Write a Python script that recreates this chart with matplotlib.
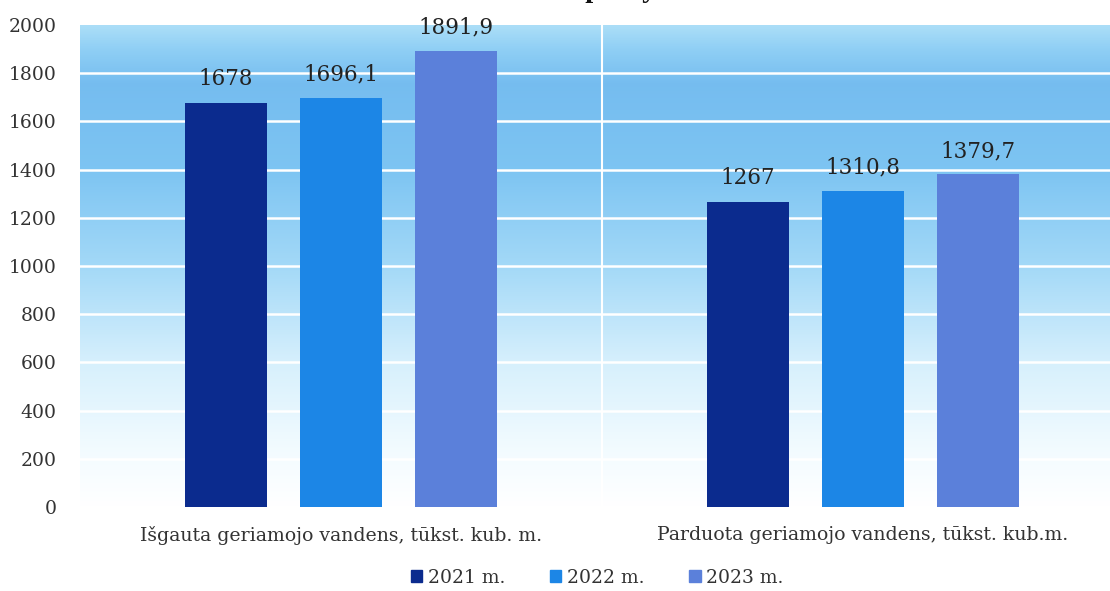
import numpy as np
import matplotlib.pyplot as plt
from matplotlib.colors import LinearSegmentedColormap
from matplotlib.patches import Patch

plt.rcParams['font.family'] = ['DejaVu Serif']

# data
categories = ['Išgauta geriamojo vandens, tūkst. kub. m.',
              'Parduota geriamojo vandens, tūkst. kub.m.']
years = ['2021 m.', '2022 m.', '2023 m.']
v2021 = [1678, 1267]
v2022 = [1696.1, 1310.8]
v2023 = [1891.9, 1379.7]
labels2021 = ['1678', '1267']
labels2022 = ['1696,1', '1310,8']
labels2023 = ['1891,9', '1379,7']
yticks = [0, 200, 400, 600, 800, 1000, 1200, 1400, 1600, 1800, 2000]

colors = ['#0b2b8e', '#1c86e6', '#5b80da']

fig = plt.figure(figsize=(11.1, 5.91), dpi=100)
ax = fig.add_axes([80/1110, 84/591, 1044/1110, 482/591])

# background gradient (bottom white -> blue at top)
grad = LinearSegmentedColormap.from_list('bg', [
    (0.0, (1.0, 1.0, 1.0)),
    (0.12, (0.95, 0.985, 1.0)),
    (0.3, (0.84, 0.94, 0.99)),
    (0.5, (0.64, 0.85, 0.97)),
    (0.7, (0.49, 0.77, 0.95)),
    (0.88, (0.46, 0.74, 0.94)),
    (0.95, (0.56, 0.81, 0.96)),
    (1.0, (0.67, 0.87, 0.97)),
])
ax.imshow(np.linspace(0, 1, 256).reshape(-1, 1), cmap=grad, origin='lower',
          extent=[-0.5, 1.5, 0, 2000], aspect='auto', zorder=0)

x = np.arange(len(categories))
offs = [-0.22, 0, 0.22]
w = 0.157
series = [v2021, v2022, v2023]
txt = [labels2021, labels2022, labels2023]
for i in range(3):
    bars = ax.bar(x + offs[i], series[i], w, color=colors[i], zorder=3)
    for b, t in zip(bars, txt[i]):
        ax.annotate(t, (b.get_x() + b.get_width()/2, b.get_height()),
                    xytext=(0, 9), textcoords='offset points',
                    ha='center', va='bottom', fontsize=15.5, color='#222222')

ax.set_xlim(-0.5, 1.5)
ax.set_ylim(0, 2000)
ax.set_yticks(yticks)
ax.set_xticks(x)
ax.set_xticklabels(categories, fontsize=13.6, color='#333333')
ax.tick_params(axis='both', length=0, colors='#333333')
ax.tick_params(axis='y', pad=17, labelsize=13.5)
ax.tick_params(axis='x', pad=14)
for t in yticks[1:-1]:
    ax.axhline(t, color='white', lw=1.8, zorder=1)
ax.axvline(0.5, color='white', lw=1.5, zorder=1)
for s in ax.spines.values():
    s.set_visible(False)

# title, only its lower part is on the page
fig.text(571/1110, 1 + 3/591, 'apimtys', ha='left', va='baseline',
         fontsize=20.5, fontweight='bold', color='#111111',
         family='Liberation Serif')

handles = [Patch(color=c) for c in colors]
fig.legend(handles, years, loc='center', bbox_to_anchor=(0.538, 1 - 578/591),
           ncol=3, frameon=False, fontsize=13.5, handlelength=0.6,
           handleheight=0.6, handletextpad=0.3, columnspacing=2.4,
           labelcolor='#333333')

fig.savefig('out.png', dpi=100)
